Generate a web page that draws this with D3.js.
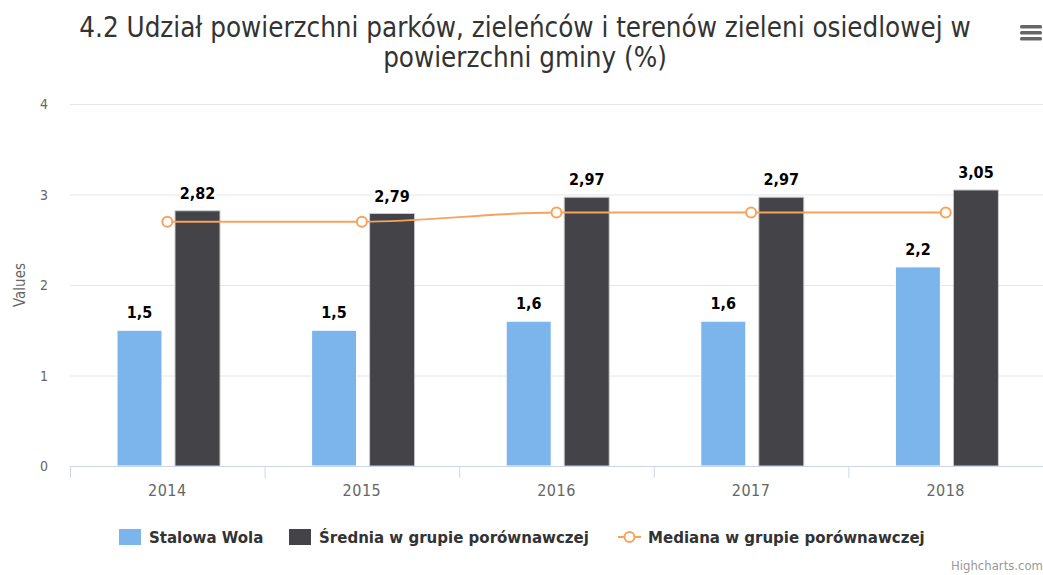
<!DOCTYPE html>
<html>
<head>
<meta charset="utf-8">
<script src="https://cdn.jsdelivr.net/npm/d3@7"></script>
<style>
  body { margin: 0; background: #fff; }
  svg { font-family: "DejaVu Sans Condensed", "DejaVu Sans", sans-serif; }
</style>
</head>
<body>
<div id="chart"></div>
<script>
// chart data
var years = ["2014", "2015", "2016", "2017", "2018"];
var stalowaWola = [1.5, 1.5, 1.6, 1.6, 2.2];
var srednia = [2.82, 2.79, 2.97, 2.97, 3.05];
var mediana = [2.7, 2.7, 2.8, 2.8, 2.8];
var yTicks = [0, 1, 2, 3, 4];
var seriesNames = ["Stalowa Wola", "Średnia w grupie porównawczej", "Mediana w grupie porównawczej"];

var W = 1043, H = 575;
var margin = { top: 104, right: 0, bottom: 109, left: 70 };
var width = W - margin.left - margin.right;
var height = H - margin.top - margin.bottom;

var svg = d3.select("#chart").append("svg").attr("width", W).attr("height", H);

// title
var title = svg.append("text")
  .attr("text-anchor", "middle")
  .style("font-size", "27.5px")
  .style("fill", "#333");
title.append("tspan").attr("x", 525).attr("y", 37).text("4.2 Udział powierzchni parków, zieleńców i terenów zieleni osiedlowej w");
title.append("tspan").attr("x", 525).attr("y", 67).text("powierzchni gminy (%)");

// menu icon
[0, 6, 12].forEach(function (d) {
  svg.append("rect").attr("x", 1020).attr("y", 25 + d).attr("width", 22).attr("height", 3.5)
    .attr("rx", 1.5).style("fill", "#666");
});

var g = svg.append("g").attr("transform", "translate(" + margin.left + "," + margin.top + ")");

var x = d3.scaleBand().domain(years).range([0, width]);
var y = d3.scaleLinear().domain([0, 4]).range([height, 0]);

// gridlines
g.selectAll(".grid").data(yTicks).enter().append("line")
  .attr("x1", 0).attr("x2", width)
  .attr("y1", function (d) { return y(d) + 0.5; })
  .attr("y2", function (d) { return y(d) + 0.5; })
  .style("stroke", "#e6e6e6");

// y tick labels
g.selectAll(".ytick").data(yTicks).enter().append("text")
  .attr("x", -22).attr("y", function (d) { return y(d) + 5; })
  .attr("text-anchor", "end")
  .style("font-size", "14px").style("fill", "#666")
  .text(function (d) { return d; });

svg.append("text")
  .attr("transform", "translate(25," + (margin.top + height / 2) + ") rotate(-90)")
  .attr("text-anchor", "middle")
  .style("font-size", "15px").style("fill", "#666")
  .text("Values");

// bars: two columns per year
var inner = d3.scaleBand().domain([0, 1]).range([47, 150]).paddingInner(0.224);

g.selectAll(".bar-sw").data(stalowaWola).enter().append("rect")
  .attr("x", function (d, i) { return x(years[i]) + inner(0); })
  .attr("y", function (d) { return y(d); })
  .attr("width", inner.bandwidth())
  .attr("height", function (d) { return height - y(d); })
  .style("fill", "#7cb5ec").style("stroke", "#fff").style("stroke-width", 1);

g.selectAll(".bar-sr").data(srednia).enter().append("rect")
  .attr("x", function (d, i) { return x(years[i]) + inner(1); })
  .attr("y", function (d) { return y(d); })
  .attr("width", inner.bandwidth())
  .attr("height", function (d) { return height - y(d); })
  .style("fill", "#434348").style("stroke", "#ccc").style("stroke-width", 1);

// x axis
g.append("line").attr("x1", 0).attr("x2", width).attr("y1", height + 0.5).attr("y2", height + 0.5)
  .style("stroke", "#ccd6eb");
g.selectAll(".xtick").data(years.concat(["end"])).enter().append("line")
  .attr("x1", function (d, i) { return i * x.step() + 0.5; })
  .attr("x2", function (d, i) { return i * x.step() + 0.5; })
  .attr("y1", height).attr("y2", height + 12)
  .style("stroke", "#ccd6eb");
g.selectAll(".xlabel").data(years).enter().append("text")
  .attr("x", function (d) { return x(d) + x.bandwidth() / 2; })
  .attr("y", height + 30)
  .attr("text-anchor", "middle")
  .style("font-size", "16px").style("letter-spacing", "0.5px").style("fill", "#666")
  .text(function (d) { return d; });

// median line
var line = d3.line()
  .x(function (d, i) { return x(years[i]) + x.bandwidth() / 2; })
  .y(function (d) { return y(d); })
  .curve(d3.curveMonotoneX);
g.append("path").datum(mediana).attr("d", line)
  .style("fill", "none").style("stroke", "#f7a35c").style("stroke-width", 2);
g.selectAll(".med").data(mediana).enter().append("circle")
  .attr("cx", function (d, i) { return x(years[i]) + x.bandwidth() / 2; })
  .attr("cy", function (d) { return y(d); })
  .attr("r", 5)
  .style("fill", "#fff").style("stroke", "#f7a35c").style("stroke-width", 2);

// data labels
function fmt(v) { return String(v).replace(".", ","); }
function labels(data, k) {
  g.selectAll(".lbl" + k).data(data).enter().append("text")
    .attr("x", function (d, i) { return x(years[i]) + inner(k) + inner.bandwidth() / 2; })
    .attr("y", function (d) { return y(d) - 12; })
    .attr("text-anchor", "middle")
    .style("font-size", "16px").style("font-weight", "bold").style("fill", "#000")
    .style("stroke", "#fff").style("stroke-width", 3).style("paint-order", "stroke")
    .text(function (d) { return fmt(d); });
}
labels(stalowaWola, 0);
labels(srednia, 1);

// legend
var legend = svg.append("g").attr("transform", "translate(0,537)");
var lx = [119, 289, 618];
legend.append("rect").attr("x", lx[0]).attr("y", -8).attr("width", 22).attr("height", 16).style("fill", "#7cb5ec");
legend.append("rect").attr("x", lx[1]).attr("y", -8).attr("width", 22).attr("height", 16).style("fill", "#434348");
legend.append("line").attr("x1", lx[2]).attr("x2", lx[2] + 23).attr("y1", 0).attr("y2", 0)
  .style("stroke", "#f7a35c").style("stroke-width", 2);
legend.append("circle").attr("cx", lx[2] + 11.5).attr("cy", 0).attr("r", 5)
  .style("fill", "#fff").style("stroke", "#f7a35c").style("stroke-width", 2);
seriesNames.forEach(function (n, i) {
  legend.append("text").attr("x", lx[i] + 30).attr("y", 6)
    .style("font-size", "16.7px").style("font-weight", "bold").style("fill", "#333")
    .text(n);
});

// credits
svg.append("text").attr("x", 1043).attr("y", 570).attr("text-anchor", "end")
  .style("font-size", "13px").style("fill", "#999").text("Highcharts.com");
</script>
</body>
</html>
